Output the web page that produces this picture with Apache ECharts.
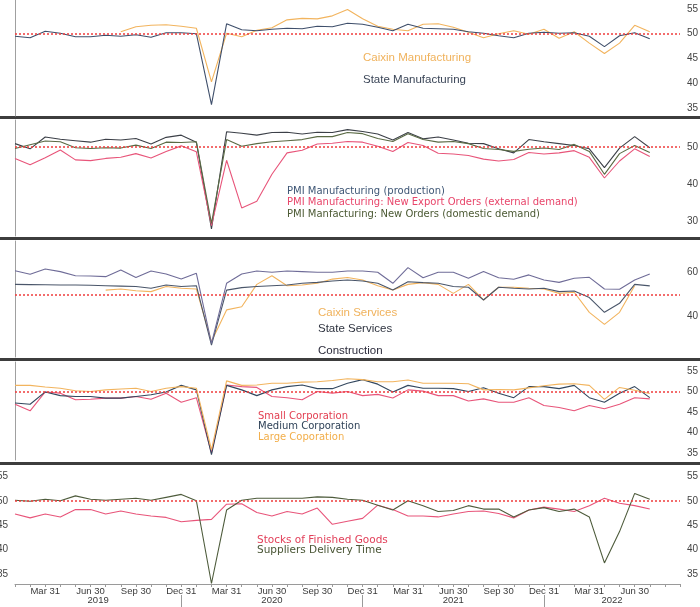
<!DOCTYPE html>
<html>
<head>
	<meta charset="utf-8">
	<title>China PMI panels</title>
	<style type="text/css">
		html, body {
			margin: 0;
			padding: 0;
			background: #fff;
		}
		#chart {
			width: 700px;
			height: 607px;
		}
	</style>
</head>
<body>
	<div id="chart"></div>

	<script src="https://cdn.jsdelivr.net/npm/echarts@6/dist/echarts.min.js"></script>
	<script type="text/javascript">
	// month-end categories, Jan 2019 .. Sep 2022 (axis runs a bit past the data)
	const MONTHS = [
		'Jan 2019','Feb 2019','Mar 2019','Apr 2019','May 2019','Jun 2019','Jul 2019','Aug 2019','Sep 2019','Oct 2019','Nov 2019','Dec 2019',
		'Jan 2020','Feb 2020','Mar 2020','Apr 2020','May 2020','Jun 2020','Jul 2020','Aug 2020','Sep 2020','Oct 2020','Nov 2020','Dec 2020',
		'Jan 2021','Feb 2021','Mar 2021','Apr 2021','May 2021','Jun 2021','Jul 2021','Aug 2021','Sep 2021','Oct 2021','Nov 2021','Dec 2021',
		'Jan 2022','Feb 2022','Mar 2022','Apr 2022','May 2022','Jun 2022','Jul 2022','Aug 2022','Sep 2022'
	];
	const QUARTER_LABELS = { Mar: 'Mar 31', Jun: 'Jun 30', Sep: 'Sep 30', Dec: 'Dec 31' };
	const YEARS = ['2019', '2020', '2021', '2022'];

	// panel 1
	const CAIXIN_MFG = [null, null, null, null, null, null, null, 50.4, 51.4, 51.7, 51.8, 51.5,
		51.1, 40.3, 50.1, 49.4, 50.7, 51.2, 52.8, 53.1, 53.0, 53.6, 54.9, 53.0,
		51.5, 50.9, 50.6, 51.9, 52.0, 51.3, 50.3, 49.2, 50.0, 50.6, 49.9, 50.9,
		49.1, 50.4, 48.1, 46.0, 48.1, 51.7, 50.4];
	const STATE_MFG = [49.5, 49.2, 50.5, 50.1, 49.4, 49.4, 49.7, 49.5, 49.8, 49.3, 50.2, 50.2,
		50.0, 35.7, 52.0, 50.8, 50.6, 50.9, 51.1, 51.0, 51.5, 51.4, 52.1, 51.9,
		51.3, 50.6, 51.9, 51.1, 51.0, 50.9, 50.4, 50.1, 49.6, 49.2, 50.1, 50.3,
		50.1, 50.2, 49.5, 47.4, 49.6, 50.2, 49.0];

	// panel 2
	const PMI_PRODUCTION = [50.9, 49.5, 52.7, 52.1, 51.7, 51.3, 52.1, 51.9, 52.3, 50.8, 52.6, 53.2,
		51.3, 27.8, 54.1, 53.7, 53.2, 53.9, 54.0, 53.5, 54.0, 53.9, 54.7, 54.2,
		53.5, 51.9, 53.9, 52.2, 52.7, 51.9, 51.0, 50.9, 49.5, 48.4, 52.0, 51.4,
		50.9, 50.4, 49.5, 44.4, 49.7, 52.8, 49.8];
	const PMI_EXPORT_ORDERS = [46.9, 45.2, 47.1, 49.2, 46.5, 46.3, 46.9, 47.2, 48.2, 47.0, 48.8, 50.3,
		48.7, 28.7, 46.4, 33.5, 35.3, 42.6, 48.4, 49.1, 50.8, 51.0, 51.5, 51.3,
		50.2, 48.8, 51.2, 50.4, 48.3, 48.1, 47.7, 46.7, 46.2, 46.6, 48.5, 48.1,
		48.4, 49.0, 47.2, 41.6, 46.2, 49.5, 47.4];
	const PMI_NEW_ORDERS = [49.6, 50.6, 51.6, 51.4, 49.8, 49.6, 49.8, 49.7, 50.5, 49.6, 51.3, 51.2,
		51.4, 29.3, 52.0, 50.2, 50.9, 51.4, 51.7, 52.0, 52.8, 52.8, 53.9, 53.6,
		52.3, 51.5, 53.6, 52.0, 51.3, 51.5, 50.9, 49.6, 49.3, 48.8, 49.4, 49.7,
		49.3, 50.7, 48.8, 42.6, 48.2, 50.4, 48.5];

	// panel 3
	const CAIXIN_SERVICES = [null, null, null, null, null, null, 52.0, 52.5, 51.7, 51.3, 53.6, 52.8,
		52.5, 28.6, 43.0, 44.4, 54.6, 58.5, 54.0, 54.3, 55.1, 57.0, 57.7, 56.6,
		54.0, 52.0, 54.6, 55.4, 54.6, 50.5, 54.6, 47.5, 53.3, 53.3, 52.8, 52.5,
		50.5, 51.0, 41.9, 36.4, 41.9, 54.0];
	const STATE_SERVICES = [54.6, 54.5, 54.4, 54.3, 54.3, 54.2, 54.0, 53.8, 53.6, 52.8, 54.3, 53.6,
		54.0, 27.0, 52.0, 53.1, 53.6, 54.0, 54.3, 55.1, 55.5, 56.1, 56.6, 56.1,
		55.1, 52.0, 55.8, 55.4, 55.1, 53.6, 53.3, 47.5, 53.3, 52.8, 52.5, 52.8,
		51.3, 51.6, 48.6, 41.9, 46.0, 54.6, 53.9];
	const CONSTRUCTION = [60.8, 59.2, 61.6, 60.4, 58.5, 58.4, 58.1, 61.1, 57.7, 60.7, 59.3, 57.0,
		59.6, 27.8, 55.1, 59.3, 60.7, 60.1, 60.7, 60.4, 60.1, 60.1, 60.7, 60.7,
		60.1, 55.1, 62.2, 57.6, 60.1, 60.1, 57.4, 60.4, 57.6, 56.9, 58.9, 56.6,
		55.5, 57.4, 57.8, 52.5, 52.4, 56.6, 59.3];

	// panel 4
	const SMALL_CORP = [46.9, 45.3, 49.9, 49.6, 48.0, 48.1, 48.4, 48.4, 48.8, 48.1, 49.6, 47.4,
		48.5, 35.0, 51.6, 51.2, 51.0, 48.8, 48.5, 48.0, 50.0, 49.6, 50.0, 49.0,
		49.3, 48.4, 50.4, 50.1, 49.0, 49.0, 47.7, 48.2, 47.4, 47.4, 48.5, 46.6,
		46.1, 45.3, 46.6, 45.8, 46.9, 48.5, 48.2];
	const MEDIUM_CORP = [47.2, 46.9, 49.9, 49.0, 48.8, 48.8, 48.4, 48.4, 48.8, 49.2, 49.9, 51.5,
		50.4, 34.6, 51.5, 50.4, 49.0, 50.4, 51.2, 51.6, 50.7, 50.7, 52.0, 52.9,
		51.8, 49.9, 51.5, 50.8, 50.8, 50.7, 50.0, 50.9, 49.6, 48.5, 51.2, 51.2,
		50.7, 51.5, 48.5, 47.4, 49.6, 51.2, 48.5];
	const LARGE_CORP = [51.5, 51.5, 51.1, 50.8, 50.2, 50.0, 50.4, 50.6, 50.8, 50.0, 50.8, 51.2,
		50.8, 35.8, 52.6, 51.5, 51.6, 52.0, 52.0, 52.3, 52.4, 52.7, 53.1, 52.9,
		52.4, 52.4, 52.8, 52.0, 52.0, 52.0, 51.9, 50.4, 50.5, 50.4, 50.9, 51.4,
		51.8, 51.9, 51.5, 48.1, 51.0, 50.3, 49.5];

	// panel 5
	const FINISHED_STOCKS = [47.3, 46.5, 47.3, 46.7, 48.2, 48.2, 47.3, 47.9, 47.3, 46.9, 46.6, 45.7,
		46.0, 46.2, 49.3, 49.4, 47.6, 46.9, 47.8, 47.3, 48.5, 45.2, 45.8, 46.4,
		49.1, 48.2, 46.9, 46.9, 46.7, 47.3, 47.8, 47.9, 47.4, 46.5, 48.1, 48.7,
		48.3, 47.8, 49.0, 50.5, 49.5, 49.0, 48.3];
	const SUPPLIER_DELIVERY = [50.1, 49.9, 50.3, 50.0, 51.0, 50.3, 50.1, 50.3, 50.5, 50.1, 50.7, 51.3,
		50.0, 33.1, 48.1, 50.1, 50.5, 50.5, 50.5, 50.5, 50.8, 50.7, 50.3, 50.1,
		49.1, 48.1, 50.0, 49.0, 47.8, 48.0, 49.0, 48.3, 48.3, 46.7, 48.1, 48.6,
		47.8, 48.3, 46.7, 37.3, 43.7, 51.5, 50.3];

	// y tick labels per panel
	const TICKS_MFG = [35, 40, 45, 50, 55];
	const TICKS_SUBINDEX = [30, 40, 50];
	const TICKS_SERVICES = [40, 60];
	const TICKS_SIZE = [35, 40, 45, 50, 55];
	const TICKS_SUPPLY = [35, 40, 45, 50, 55];

	const SANS = 'Liberation Sans';
	const VERD = 'DejaVu Sans';
	// thin red dots wash out to grey unless they are a bit bolder
	const REF_LINE = '#f03c3c';

	const PANELS = [
		{ top: 0, height: 116, min: 33.4, max: 56.8, ticks: TICKS_MFG, series: [
			{ name: 'Caixin Manufacturing', data: CAIXIN_MFG, color: '#f2b45e', text: '#f0b25c', x: 363, y: 58, font: SANS, size: 11.5 },
			{ name: 'State Manufacturing', data: STATE_MFG, color: '#3f4f6b', text: '#3b4658', x: 363, y: 80, font: SANS, size: 11.5 }
		]},
		{ top: 120, height: 116, min: 25.9, max: 57.3, ticks: TICKS_SUBINDEX, series: [
			{ name: 'PMI Manufacturing (production)', data: PMI_PRODUCTION, color: '#3c4048', text: '#3e5675', x: 287, y: 191, font: VERD, size: 10 },
			{ name: 'PMI Manufacturing: New Export Orders (external demand)', data: PMI_EXPORT_ORDERS, color: '#e8557a', text: '#e8456a', x: 287, y: 202.5, font: VERD, size: 10 },
			{ name: 'PMI Manfacturing: New Orders (domestic demand)', data: PMI_NEW_ORDERS, color: '#5a6a44', text: '#4c5a34', x: 287, y: 214, font: VERD, size: 10 }
		]},
		{ top: 241, height: 116, min: 21.6, max: 74.3, ticks: TICKS_SERVICES, series: [
			{ name: 'Caixin Services', data: CAIXIN_SERVICES, color: '#f2b45e', text: '#f0b25c', x: 318, y: 313, font: SANS, size: 11.5 },
			{ name: 'State Services', data: STATE_SERVICES, color: '#4a566a', text: '#2f3440', x: 318, y: 329, font: SANS, size: 11.5 },
			{ name: 'Construction', data: CONSTRUCTION, color: '#6f6c98', text: '#2c2c3c', x: 318, y: 351, font: SANS, size: 11.5 }
		]},
		{ top: 362, height: 98, min: 33.3, max: 57.2, ticks: TICKS_SIZE, series: [
			{ name: 'Small Corporation', data: SMALL_CORP, color: '#e8557a', text: '#e23e50', x: 258, y: 416.5, font: VERD, size: 10 },
			{ name: 'Medium Corporation', data: MEDIUM_CORP, color: '#33475e', text: '#2f4258', x: 258, y: 426.5, font: VERD, size: 10 },
			{ name: 'Large Coporation', data: LARGE_CORP, color: '#f2b45e', text: '#f2ae4a', x: 258, y: 437, font: VERD, size: 10 }
		]},
		{ top: 466, height: 118, min: 33.0, max: 57.1, ticks: TICKS_SUPPLY, leftLabels: true, series: [
			{ name: 'Stocks of Finished Goods', data: FINISHED_STOCKS, color: '#e8557a', text: '#e2405a', x: 257, y: 540, font: VERD, size: 10.5 },
			{ name: 'Suppliers Delivery Time', data: SUPPLIER_DELIVERY, color: '#4e5c3c', text: '#4a5636', x: 257, y: 550, font: VERD, size: 10.5 }
		]}
	];

	// year label sits in the middle of each year's stretch of axis, separators at Dec
	const decIdx = MONTHS.map((m, i) => m.startsWith('Dec') ? i : -1).filter(i => i >= 0);
	const bounds = [0].concat(decIdx, [MONTHS.length - 1]);
	const yearCenters = YEARS.map((y, k) => (bounds[k] + bounds[k + 1]) / 2);

	function monthOf(value) {
		return value.split(' ')[0];
	}

	function legendItem(s) {
		return {
			left: s.x - 5,
			top: s.y - 7,
			orient: 'vertical',
			icon: 'none',
			itemWidth: 0,
			itemHeight: 14,
			padding: 0,
			selectedMode: false,
			data: [{ name: s.name, textStyle: { color: s.text } }],
			textStyle: { fontFamily: s.font, fontSize: s.size, lineHeight: 14 }
		};
	}

	function buildOption() {
		let grid = [], xAxis = [], yAxis = [], series = [], legend = [];
		let last = PANELS.length - 1;

		PANELS.forEach((p, i) => {
			// outerBoundsMode none: keep the plot where it is even if labels spill out
			grid.push({ left: 15, right: 20, top: p.top, height: p.height, containLabel: false, outerBoundsMode: 'none' });

			xAxis.push({
				type: 'category',
				gridIndex: i,
				data: MONTHS,
				boundaryGap: false,
				axisLine: { show: i === last, lineStyle: { color: '#9a9a9a', width: 1 } },
				axisTick: { show: i === last, interval: 0, length: 3, lineStyle: { color: '#9a9a9a' } },
				axisLabel: {
					show: i === last,
					// quarter ends only, and none on the empty stretch at the far right
					interval: (idx, value) => idx < MONTHS.length - 1 && QUARTER_LABELS[monthOf(value)] !== undefined,
					formatter: value => QUARTER_LABELS[monthOf(value)] || '',
					margin: 2,
					fontFamily: SANS,
					fontSize: 9.5,
					color: '#3a3a3a'
				},
				splitLine: { show: false }
			});

			// right-hand value axis with the labels
			yAxis.push({
				type: 'value',
				gridIndex: i,
				position: 'right',
				min: p.min,
				max: p.max,
				axisLine: { show: false },
				axisTick: { show: false },
				splitLine: { show: false },
				axisLabel: {
					customValues: p.ticks,
					margin: 7,
					fontFamily: SANS,
					fontSize: 10,
					color: '#444'
				}
			});
			// left-hand axis: thin frame line (or half-cut labels on the last panel)
			yAxis.push({
				type: 'value',
				gridIndex: i,
				position: 'left',
				min: p.min,
				max: p.max,
				axisLine: { show: !p.leftLabels, lineStyle: { color: '#a0a0a0', width: 1 } },
				axisTick: { show: false },
				splitLine: { show: false },
				axisLabel: {
					show: !!p.leftLabels,
					customValues: p.ticks,
					margin: 7,
					fontFamily: SANS,
					fontSize: 10,
					color: '#444'
				}
			});

			p.series.forEach((s, k) => {
				let item = {
					name: s.name,
					type: 'line',
					xAxisIndex: i,
					yAxisIndex: i * 2,
					data: s.data,
					showSymbol: false,
					symbol: 'none',
					connectNulls: false,
					lineStyle: { color: s.color, width: 1.1 },
					itemStyle: { color: s.color },
					emphasis: { disabled: true }
				};
				if (k === 0) {
					item.markLine = {
						silent: true,
						symbol: ['none', 'none'],
						label: { show: false },
						lineStyle: { type: [2, 2], color: REF_LINE, width: 1.5, opacity: 1 },
						emphasis: { disabled: true },
						data: [{ yAxis: 50 }]
					};
				}
				series.push(item);
				legend.push(legendItem(s));
			});
		});

		// year row under the month labels
		xAxis.push({
			type: 'value',
			gridIndex: last,
			position: 'bottom',
			offset: 11,
			min: 0,
			max: MONTHS.length - 1,
			axisLine: { show: false },
			splitLine: { show: false },
			axisTick: { customValues: decIdx, length: 12, lineStyle: { color: '#9a9a9a' } },
			axisLabel: {
				customValues: yearCenters,
				formatter: v => YEARS[yearCenters.indexOf(v)] || '',
				margin: 0,
				fontFamily: SANS,
				fontSize: 9.5,
				color: '#3a3a3a'
			}
		});

		// thick dark separators between the panels
		let graphic = PANELS.slice(1).map(p => ({
			type: 'rect',
			left: 0,
			top: p.top - 4,
			shape: { width: 700, height: 3 },
			style: { fill: '#3d3d3d' },
			silent: true
		}));

		return {
			animation: false,
			backgroundColor: '#ffffff',
			tooltip: { show: false },
			grid: grid,
			xAxis: xAxis,
			yAxis: yAxis,
			legend: legend,
			graphic: graphic,
			series: series
		};
	}

	var myChart = echarts.init(document.getElementById('chart'));
	myChart.setOption(buildOption());
	</script>
</body>
</html>
